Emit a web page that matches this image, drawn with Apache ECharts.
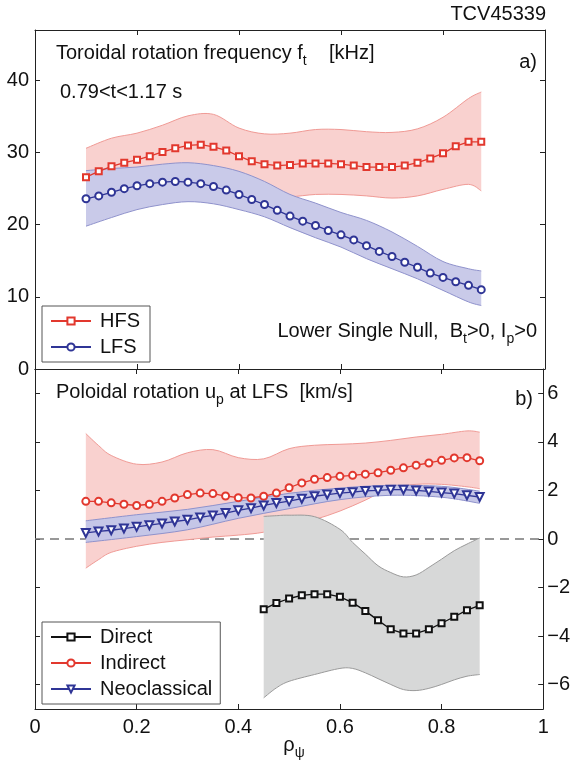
<!DOCTYPE html>
<html>
<head>
<meta charset="utf-8">
<script src="https://cdn.jsdelivr.net/npm/echarts@6/dist/echarts.min.js"></script>
<style>
html, body { margin: 0; padding: 0; background: #fff; }
#chart-panel { width: 573px; height: 762px; }
</style>
</head>
<body>
<div id="chart-panel"></div>
<script>
// radial positions of the markers (rho_psi)
var rho = [0.1, 0.125, 0.15, 0.175, 0.2, 0.225, 0.25, 0.275, 0.3, 0.325, 0.35, 0.375, 0.4, 0.425, 0.45, 0.475,
           0.5, 0.525, 0.55, 0.575, 0.6, 0.625, 0.65, 0.675, 0.7, 0.725, 0.75, 0.775, 0.8, 0.825, 0.85, 0.875];

// a) toroidal rotation frequency [kHz]
var hfs = [26.6, 27.4, 28.1, 28.6, 29.0, 29.5, 30.1, 30.6, 31.0, 31.1, 30.8, 30.3, 29.5, 28.8, 28.4, 28.2,
           28.3, 28.5, 28.5, 28.5, 28.4, 28.2, 28.0, 28.0, 28.0, 28.2, 28.6, 29.2, 29.9, 30.9, 31.5, 31.5];
var lfs = [23.6, 24.0, 24.5, 25.0, 25.4, 25.7, 25.9, 26.0, 25.9, 25.7, 25.3, 24.8, 24.2, 23.5, 22.8, 22.0,
           21.2, 20.5, 19.9, 19.2, 18.6, 17.9, 17.1, 16.3, 15.6, 14.8, 14.1, 13.3, 12.7, 12.1, 11.6, 11.0];

// error bands of panel a)
var bandX = [0.1, 0.15, 0.2, 0.25, 0.3, 0.35, 0.4, 0.45, 0.5, 0.55, 0.6, 0.65, 0.7, 0.75, 0.8, 0.85, 0.875];
var hfsUp = [30.6, 32.0, 32.7, 33.8, 35.1, 35.3, 33.4, 32.6, 32.7, 33.2, 33.2, 32.9, 32.8, 33.3, 34.9, 37.5, 38.4];
var hfsLo = [24.0, 24.3, 24.5, 24.8, 25.0, 24.8, 24.5, 24.2, 23.9, 24.2, 24.2, 24.0, 23.7, 24.0, 24.9, 25.6, 24.7];
var lfsUp = [27.5, 27.8, 28.0, 28.4, 28.6, 28.2, 27.4, 26.0, 24.2, 23.0, 21.7, 20.6, 19.0, 17.0, 14.9, 13.9, 13.6];
var lfsLo = [19.8, 21.0, 22.1, 22.8, 23.2, 22.9, 22.1, 21.1, 19.6, 18.2, 16.9, 15.3, 13.9, 12.5, 10.9, 9.3, 8.8];

// b) poloidal rotation [km/s]
var indirect = [1.55, 1.55, 1.49, 1.43, 1.38, 1.43, 1.55, 1.69, 1.83, 1.89, 1.87, 1.77, 1.70, 1.69, 1.76, 1.89,
                2.11, 2.31, 2.46, 2.53, 2.58, 2.62, 2.67, 2.73, 2.83, 2.93, 3.04, 3.13, 3.24, 3.34, 3.35, 3.22];
var neoclassical = [0.25, 0.31, 0.36, 0.43, 0.50, 0.57, 0.64, 0.72, 0.79, 0.89, 0.97, 1.07, 1.18, 1.27, 1.38, 1.48,
                    1.56, 1.66, 1.76, 1.83, 1.89, 1.93, 1.98, 2.00, 2.03, 2.03, 2.00, 1.96, 1.91, 1.87, 1.80, 1.73];
var directRho = [0.45, 0.475, 0.5, 0.525, 0.55, 0.575, 0.6, 0.625, 0.65, 0.675, 0.7, 0.725, 0.75, 0.775, 0.8, 0.825, 0.85, 0.875];
var direct = [-2.89, -2.64, -2.45, -2.32, -2.27, -2.27, -2.38, -2.62, -2.96, -3.35, -3.72, -3.89, -3.89, -3.72, -3.47, -3.20, -2.93, -2.73];

// error bands of panel b)
var indBandX = [0.1, 0.125, 0.15, 0.2, 0.25, 0.3, 0.35, 0.4, 0.45, 0.5, 0.55, 0.6, 0.65, 0.7, 0.75, 0.8, 0.85, 0.875];
var indUp = [4.34, 3.85, 3.44, 3.08, 3.17, 3.55, 3.68, 3.35, 3.30, 3.72, 3.86, 3.90, 3.95, 4.06, 4.20, 4.31, 4.45, 4.40];
var indLo = [-1.2, -0.85, -0.55, -0.30, -0.14, -0.03, 0.08, 0.16, 0.28, 0.55, 0.80, 1.15, 1.60, 2.10, 2.25, 2.25, 2.15, 2.07];
var neoBandX = [0.1, 0.2, 0.3, 0.4, 0.5, 0.6, 0.7, 0.8, 0.875];
var neoUp = [0.75, 1.0, 1.22, 1.55, 1.88, 2.10, 2.21, 2.17, 1.97];
var neoLo = [-0.14, 0.1, 0.38, 0.85, 1.25, 1.62, 1.80, 1.72, 1.47];
var dirBandX = [0.45, 0.475, 0.5, 0.55, 0.6, 0.625, 0.65, 0.675, 0.7, 0.725, 0.75, 0.775, 0.8, 0.825, 0.85, 0.875];
var dirUp = [0.93, 0.96, 0.98, 0.92, 0.40, -0.14, -0.62, -1.10, -1.38, -1.56, -1.48, -1.17, -0.83, -0.48, -0.21, 0.04];
var dirLo = [-6.54, -6.13, -5.86, -5.58, -5.33, -5.33, -5.51, -5.75, -5.99, -6.20, -6.24, -6.15, -5.99, -5.80, -5.65, -5.58];

// ticks
var fTicks = [0, 10, 20, 30, 40];
var uTicks = [-6, -4, -2, 0, 2, 4, 6];

var FONT = "'Liberation Sans', Arial, Helvetica, sans-serif";
var RED = '#e2382e', BLUE = '#2f3596', BLACK = '#111111';

function zip(xs, ys) {
    return xs.map(function (x, i) { return [x, ys[i]]; });
}

// smooth curve through pixel points (catmull-rom as cubic bezier)
function curve(p) {
    var d = '';
    for (var i = 0; i < p.length - 1; i++) {
        var p0 = p[i > 0 ? i - 1 : 0], p1 = p[i], p2 = p[i + 1], p3 = p[Math.min(i + 2, p.length - 1)];
        d += ' C' + (p1[0] + (p2[0] - p0[0]) / 6) + ',' + (p1[1] + (p2[1] - p0[1]) / 6) + ' ' +
             (p2[0] - (p3[0] - p1[0]) / 6) + ',' + (p2[1] - (p3[1] - p1[1]) / 6) + ' ' + p2[0] + ',' + p2[1];
    }
    return d;
}

function band(xs, up, lo, fill, edge, xi, yi, z) {
    return {
        type: 'custom', xAxisIndex: xi, yAxisIndex: yi, z: z, silent: true,
        data: [[xs[0], lo[0]]],
        renderItem: function (params, api) {
            var top = xs.map(function (x, i) { return api.coord([x, up[i]]); });
            var bot = xs.map(function (x, i) { return api.coord([x, lo[i]]); });
            var rev = bot.slice().reverse();
            var area = 'M' + top[0].join(',') + curve(top) + ' L' + rev[0].join(',') + curve(rev) + ' Z';
            return {
                type: 'group',
                children: [
                    { type: 'path', shape: { pathData: area }, style: { fill: fill } },
                    { type: 'path', shape: { pathData: 'M' + top[0].join(',') + curve(top) }, style: { fill: 'none', stroke: edge, lineWidth: 1 } },
                    { type: 'path', shape: { pathData: 'M' + bot[0].join(',') + curve(bot) }, style: { fill: 'none', stroke: edge, lineWidth: 1 } }
                ]
            };
        }
    };
}

function marked(name, xs, ys, symbol, size, color, xi, yi, extra) {
    var s = {
        name: name, type: 'line', xAxisIndex: xi, yAxisIndex: yi, z: 5,
        data: zip(xs, ys), symbol: symbol, symbolSize: size, showAllSymbol: true,
        color: color,
        lineStyle: { color: color, width: 1.3 },
        itemStyle: { color: color, borderColor: color, borderWidth: 1.5 }
    };
    if (extra) for (var k in extra) s[k] = extra[k];
    return s;
}

// text with subscripts, placed by pixel
var ctx = document.createElement('canvas').getContext('2d');
function textWidth(s, size) {
    ctx.font = size + 'px ' + FONT;
    return ctx.measureText(s).width;
}
function label(x, y, parts, align) {
    var total = 0;
    parts.forEach(function (p) { total += textWidth(p[0], p[1] ? 14 : 20); });
    var cx = align === 'right' ? x - total : (align === 'center' ? x - total / 2 : x);
    var out = [];
    parts.forEach(function (p) {
        var size = p[1] ? 14 : 20;
        out.push({
            type: 'text', x: cx, y: y + (p[1] ? 8 : 0), silent: true,
            style: { text: p[0], fontSize: size, fontFamily: FONT, fill: BLACK, align: 'left', verticalAlign: 'middle' }
        });
        cx += textWidth(p[0], size);
    });
    return out;
}

var axisCommon = {
    min: 0, max: 1, interval: 0.2,
    axisLine: { show: true, onZero: false, lineStyle: { color: '#222', width: 1 } },
    axisTick: { show: true, inside: true, length: 5, lineStyle: { color: '#222' } },
    splitLine: { show: false }
};
function ax(extra) {
    var a = JSON.parse(JSON.stringify(axisCommon));
    for (var k in extra) a[k] = extra[k];
    return a;
}

var myChart = echarts.init(document.getElementById('chart-panel'), null, { renderer: 'canvas' });

var option = {
    animation: false,
    backgroundColor: '#fff',
    textStyle: { fontFamily: FONT },
    grid: [
        { left: 35, top: 30, width: 510, height: 339 },
        { left: 35, top: 369, width: 510, height: 340 }
    ],
    xAxis: [
        ax({ type: 'value', gridIndex: 0, position: 'bottom', axisLabel: { show: false } }),
        ax({ type: 'value', gridIndex: 0, position: 'top', axisLabel: { show: false } }),
        ax({ type: 'value', gridIndex: 1, position: 'bottom',
             axisLabel: { show: true, margin: 8, fontSize: 20, color: BLACK, fontFamily: FONT } }),
        ax({ type: 'value', gridIndex: 1, position: 'top', axisLabel: { show: false } })
    ],
    yAxis: [
        ax({ type: 'value', gridIndex: 0, position: 'left', min: 0, max: 47, interval: 10,
             axisTick: { show: true, inside: true, length: 5, customValues: fTicks, lineStyle: { color: '#222' } },
             axisLabel: { show: true, customValues: fTicks, margin: 6, fontSize: 20, color: BLACK, fontFamily: FONT } }),
        ax({ type: 'value', gridIndex: 0, position: 'right', min: 0, max: 47, interval: 10,
             axisTick: { show: true, inside: true, length: 5, customValues: fTicks, lineStyle: { color: '#222' } },
             axisLabel: { show: false } }),
        ax({ type: 'value', gridIndex: 1, position: 'left', min: -7, max: 7, interval: 1,
             axisTick: { show: true, inside: true, length: 5, customValues: uTicks, lineStyle: { color: '#222' } },
             axisLabel: { show: false } }),
        ax({ type: 'value', gridIndex: 1, position: 'right', min: -7, max: 7, interval: 1,
             axisTick: { show: true, inside: true, length: 5, customValues: uTicks, lineStyle: { color: '#222' } },
             axisLabel: { show: true, customValues: uTicks, margin: 4, fontSize: 20, color: BLACK, fontFamily: FONT,
                          formatter: function (v) { return String(v).replace('-', '\u2212'); } } })
    ],
    legend: [
        {
            data: ['HFS', 'LFS'], orient: 'vertical', left: 42, top: 306,
            itemWidth: 40, itemHeight: 9, itemGap: 6, padding: [5, 10, 5, 8],
            borderColor: '#555', borderWidth: 1, backgroundColor: '#fff',
            textStyle: { fontSize: 20, color: BLACK, fontFamily: FONT, padding: [0, 0, 0, 4] }
        },
        {
            data: ['Direct', 'Indirect', 'Neoclassical'], orient: 'vertical', left: 42, top: 622,
            itemWidth: 40, itemHeight: 9, itemGap: 6, padding: [5, 8, 5, 8],
            borderColor: '#555', borderWidth: 1, backgroundColor: '#fff',
            textStyle: { fontSize: 20, color: BLACK, fontFamily: FONT, padding: [0, 0, 0, 4] }
        }
    ],
    series: [
        // panel a)
        band(bandX, hfsUp, hfsLo, '#f9d1cf', '#f09a95', 0, 0, 2),
        band(bandX, lfsUp, lfsLo, '#c9cae9', '#8f92cc', 0, 0, 3),
        marked('HFS', rho, hfs, 'emptyRect', 6, RED, 0, 0),
        marked('LFS', rho, lfs, 'emptyCircle', 7, BLUE, 0, 0),
        // panel b)
        {
            type: 'line', xAxisIndex: 2, yAxisIndex: 2, z: 1, silent: true, symbol: 'none',
            data: [[0, 0], [1, 0]],
            lineStyle: { color: '#777777', width: 1.3, type: [9, 6] }
        },
        band(indBandX, indUp, indLo, '#f9d1cf', '#f09a95', 2, 2, 2),
        band(dirBandX, dirUp, dirLo, '#d7d8d8', '#9a9a9a', 2, 2, 3),
        band(neoBandX, neoUp, neoLo, '#c5c6e7', '#8f92cc', 2, 2, 4),
        marked('Direct', directRho, direct, 'emptyRect', 6, BLACK, 2, 2),
        marked('Indirect', rho, indirect, 'emptyCircle', 7, RED, 2, 2),
        marked('Neoclassical', rho, neoclassical, 'emptyTriangle', 8, BLUE, 2, 2, { symbolRotate: 180 })
    ],
    graphic: [].concat(
        label(546, 14, [['TCV45339', 0]], 'right'),
        label(56, 53, [['Toroidal rotation frequency f', 0], ['t', 1], ['    [kHz]', 0]]),
        label(537, 62, [['a)', 0]], 'right'),
        label(60, 92, [['0.79<t<1.17 s', 0]]),
        label(537, 331, [['Lower Single Null,  B', 0], ['t', 1], ['>0, I', 0], ['p', 1], ['>0', 0]], 'right'),
        label(56, 392, [['Poloidal rotation u', 0], ['p', 1], [' at LFS  [km/s]', 0]]),
        label(533, 399, [['b)', 0]], 'right'),
        label(294, 745, [['\u03c1', 0], ['\u03c8', 1]], 'center')
    )
};
myChart.setOption(option);
</script>
</body>
</html>
